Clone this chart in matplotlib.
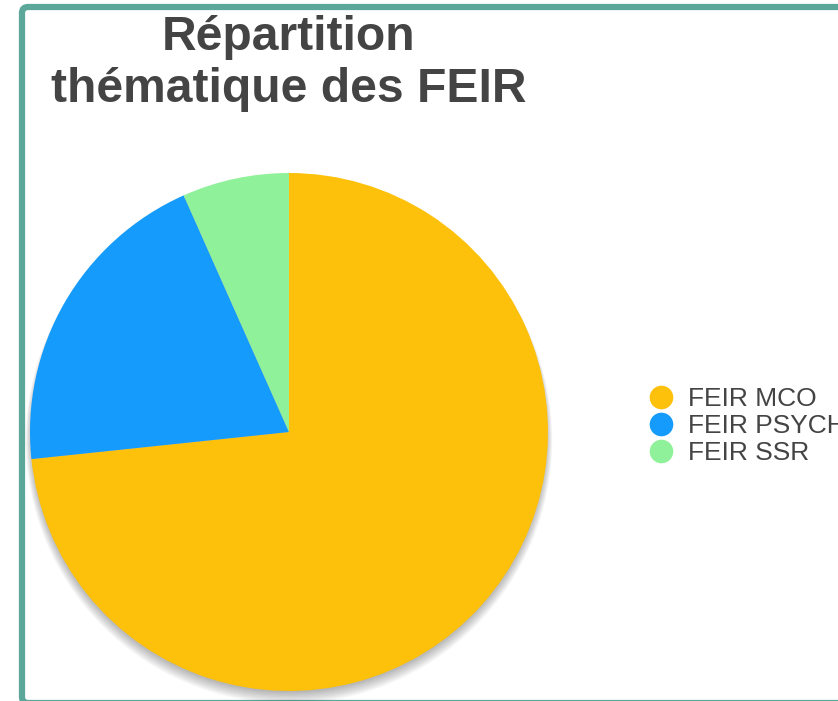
import matplotlib.pyplot as plt
import matplotlib.patches as m_patches
from matplotlib.lines import Line2D

# data
labels = ['FEIR MCO', 'FEIR PSYCH', 'FEIR SSR']
values = [11, 3, 1]
colors = ['#FDC00B', '#149BFC', '#90F19B']
title = 'Répartition\nthématique des FEIR'

W, H = 838, 701
fig = plt.figure(figsize=(W / 100, H / 100), dpi=100)
ax = fig.add_axes([0, 0, 1, 1])
ax.set_xlim(0, W)
ax.set_ylim(0, H)
ax.set_aspect('equal')
ax.axis('off')

# frame (rounded, runs off right/bottom)
frame = m_patches.FancyBboxPatch((22, H - 703), 900, 696,
                                 boxstyle='round,pad=0,rounding_size=6',
                                 facecolor='white', edgecolor='#5BA89A', lw=4.5)
ax.add_patch(frame)

cx, cy, r = 289, H - 432, 259

# soft shadow under the pie
for i in range(10):
    ax.add_patch(m_patches.Circle((cx, cy - 3 - i * 0.6), r - 2 + i * 0.7,
                                  facecolor='black', edgecolor='none',
                                  alpha=0.03, zorder=2))

ax.pie(values, colors=colors, startangle=90, counterclock=False,
       center=(cx, cy), radius=r, frame=True,
       wedgeprops=dict(linewidth=0, zorder=3))
ax.set_xlim(0, W)
ax.set_ylim(0, H)
ax.axis('off')

ax.text(289, H - 64, title, ha='center', va='center', fontsize=34.6,
        fontweight='bold', color='#444444', family='Liberation Sans',
        linespacing=1.2)

handles = [Line2D([], [], marker='o', linestyle='none', markersize=17,
                  markerfacecolor=c, markeredgecolor='none') for c in colors]
leg = ax.legend(handles, labels, loc='center left',
                bbox_to_anchor=(637 / W, 1 - 426 / H),
                frameon=False, handletextpad=0.55, labelspacing=0.12,
                handlelength=1.0, borderaxespad=0,
                prop={'family': 'Liberation Sans', 'size': 19})
for t in leg.get_texts():
    t.set_color('#444444')

fig.savefig('out.png', dpi=100)
